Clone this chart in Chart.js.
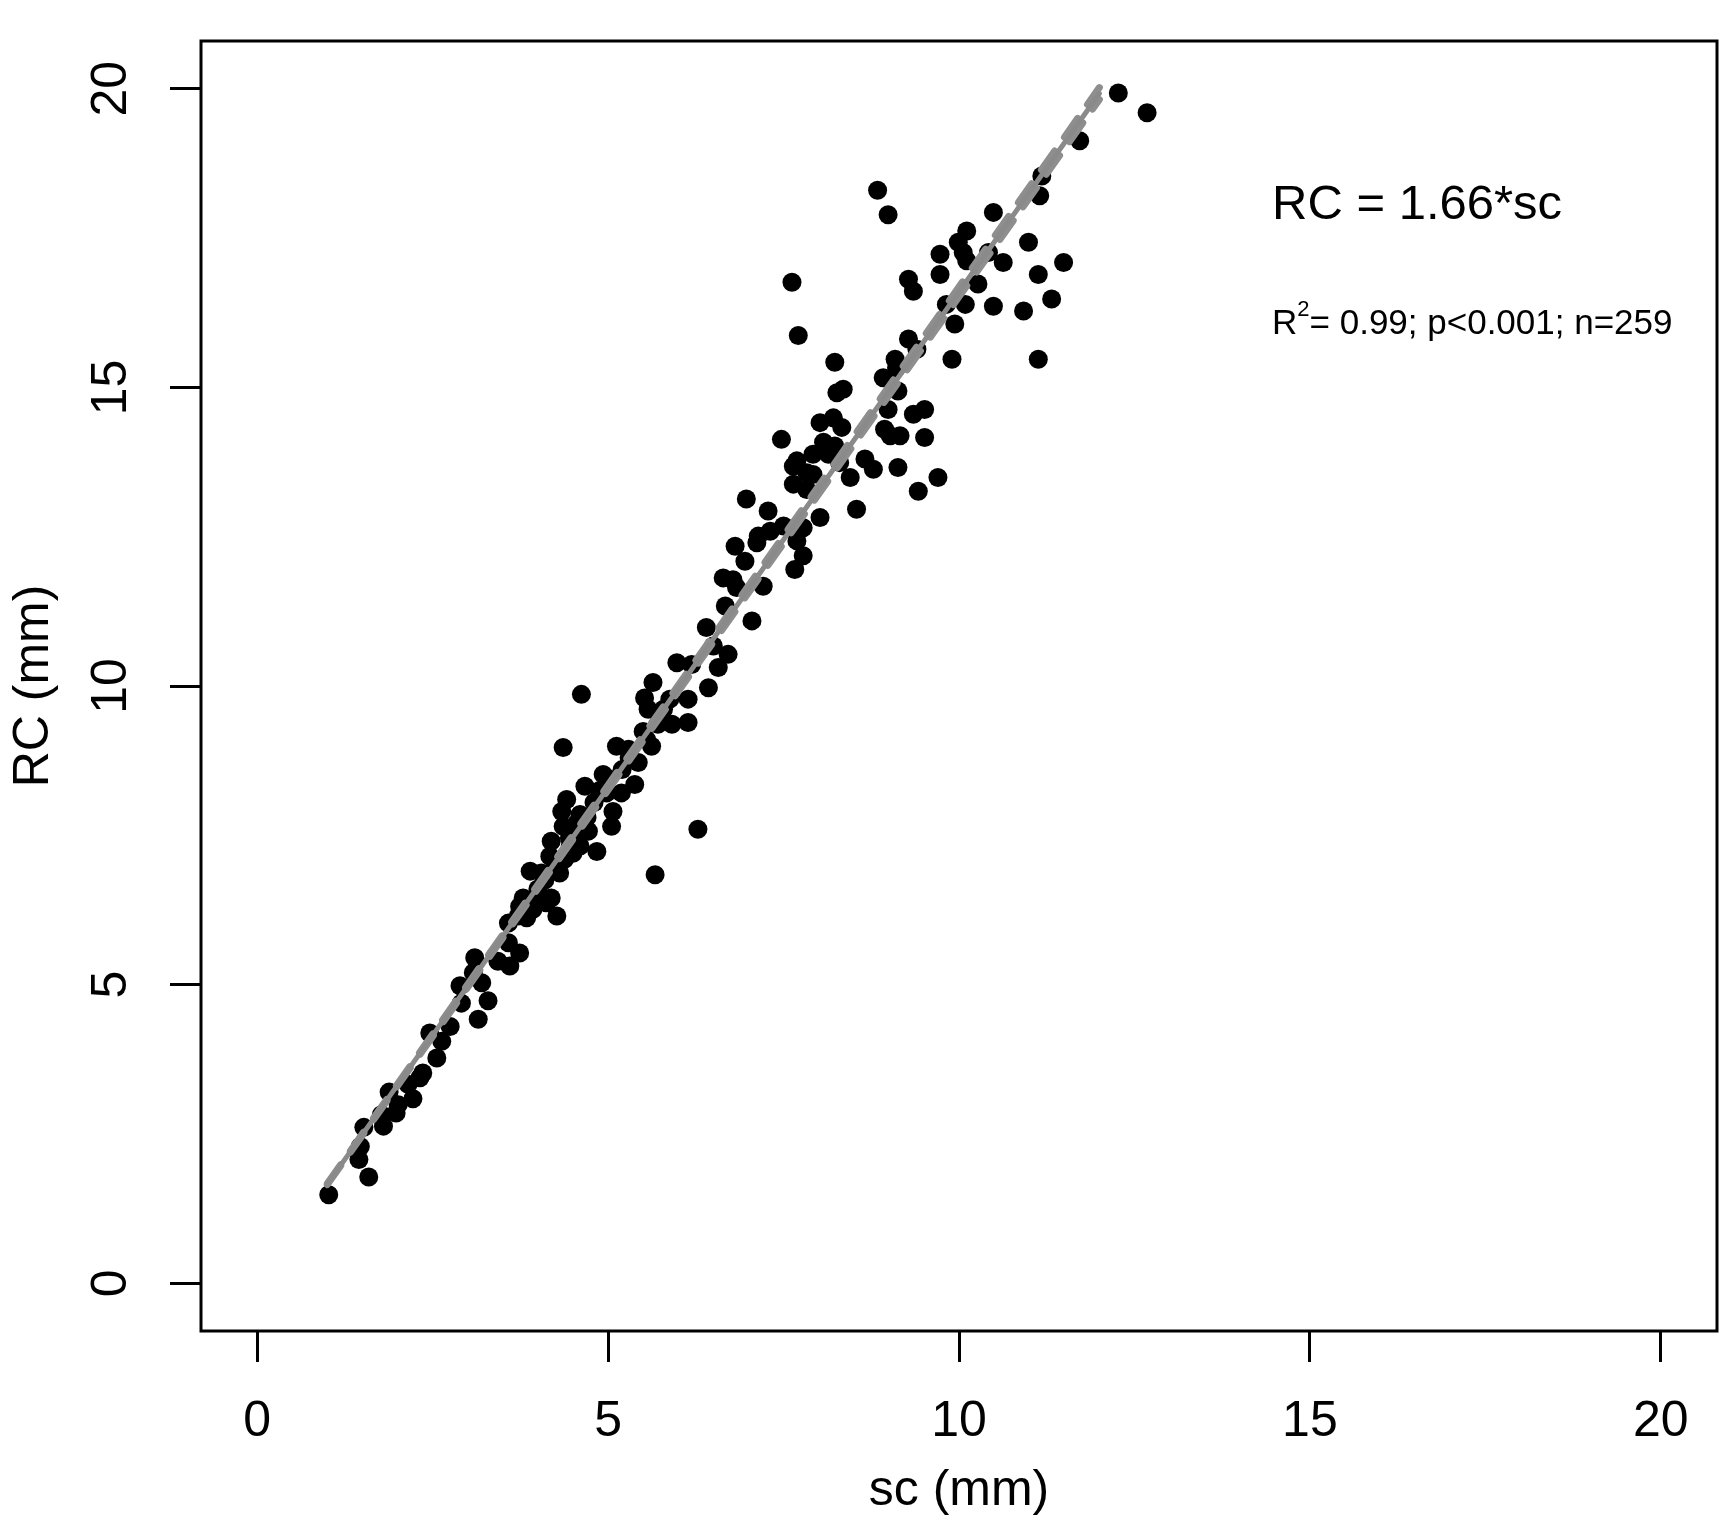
<!DOCTYPE html>
<html>
<head>
<meta charset="utf-8">
<script src="https://cdn.jsdelivr.net/npm/chart.js@4.4.1/dist/chart.umd.min.js"></script>
<style>
  html, body { margin: 0; padding: 0; background: #fff; }
  #wrap { width: 1732px; height: 1534px; }
</style>
</head>
<body>
<div id="wrap"><canvas id="chartRC" width="1732" height="1534"></canvas></div>
<script>
var scValues = [
  1.02, 1.59, 1.45, 1.47, 1.52, 1.80, 1.77, 1.98, 1.88, 2.01, 2.22, 2.15, 2.36, 2.32, 2.56, 2.46, 2.63, 2.75,
  3.15, 2.91, 2.89, 3.29, 3.08, 3.10, 3.20, 3.43, 3.60, 3.74, 3.58, 3.58, 3.84, 4.27, 3.74, 4.12, 3.93,
  3.72, 3.79, 3.98, 4.19, 3.89, 4.05, 4.31, 4.17, 4.19, 4.38, 4.46, 4.36, 4.60, 4.84, 4.72, 5.05, 4.34, 4.41,
  4.60, 4.67, 5.07, 4.98, 4.93, 5.19, 5.38, 5.12, 5.43, 5.29, 5.50, 5.71, 5.62, 5.91, 6.14, 5.52, 5.57, 5.79,
  5.64, 5.88, 6.14, 6.43, 5.98, 6.57, 4.62, 4.36, 6.28, 5.67,
  4.00, 4.10, 4.25, 4.50, 4.55, 4.70, 4.80, 4.88, 4.50, 4.45, 5.20, 5.30, 5.00, 4.02, 5.55,
  6.19, 6.71, 6.40, 6.50, 7.05, 6.67, 6.64, 6.78, 6.83, 7.21, 6.95, 6.81, 7.12, 7.14, 7.31, 7.50, 7.28, 6.97,
  7.69, 7.78, 7.66, 8.02, 7.78, 8.54, 7.64, 7.64, 7.83, 7.92, 8.45, 8.30, 8.78,
  7.71, 8.23, 8.26, 8.35, 8.02, 8.21, 8.33, 7.47, 8.07, 8.23, 7.92, 7.69, 7.83, 8.14, 8.66, 9.13, 9.42, 9.70,
  9.51, 8.94, 9.02, 9.16, 9.35, 9.51, 8.99, 9.13, 8.92, 9.09, 9.28, 9.40, 9.90, 9.94, 9.82, 10.09, 10.49, 9.11,
  12.27, 12.68, 11.72, 11.18, 11.15, 8.84, 8.99, 10.49, 10.11, 9.99, 9.73, 10.06, 10.42, 10.11, 10.63, 10.99,
  11.49, 11.13, 9.73, 9.28, 9.35, 10.27, 10.92, 11.32, 11.13, 7.62
];
var rcValues = [
  1.48, 1.78, 2.07, 2.29, 2.61, 2.63, 2.82, 2.85, 3.20, 2.99, 3.09, 3.33, 3.52, 3.44, 3.77, 4.19, 4.05, 4.30,
  4.42, 4.69, 4.98, 4.73, 5.20, 5.45, 5.03, 5.39, 5.31, 5.53, 5.70, 6.03, 6.12, 6.15, 6.31, 6.37, 6.26,
  6.15, 6.45, 6.37, 6.45, 6.90, 6.87, 6.87, 7.15, 7.40, 7.10, 7.32, 7.65, 7.32, 7.23, 7.57, 7.65, 7.90, 8.10,
  7.85, 8.32, 7.90, 8.21, 8.52, 8.21, 8.35, 8.99, 8.72, 8.94, 9.24, 9.36, 8.99, 9.36, 9.39, 9.80, 9.61, 9.61,
  10.06, 9.78, 9.78, 9.97, 10.39, 10.31, 9.86, 8.97, 7.60, 6.84,
  6.60, 6.75, 7.00, 7.50, 7.70, 7.80, 8.05, 8.25, 7.20, 7.45, 8.60, 8.80, 8.45, 6.50, 9.10,
  10.36, 10.53, 10.98, 10.67, 11.09, 11.34, 11.81, 11.78, 11.65, 11.67, 12.09, 12.34, 12.40, 12.51, 12.59, 12.68, 12.93, 13.13,
  12.43, 12.18, 11.95, 12.82, 12.65, 12.96, 13.68, 13.38, 13.29, 13.54, 13.49, 13.74, 13.63,
  15.87, 15.42, 14.91, 14.97, 14.41, 14.49, 14.33, 14.13, 14.08, 14.02, 13.88, 13.77, 13.57, 13.88, 13.80, 13.66, 13.26, 13.49,
  14.16, 14.30, 14.19, 14.19, 14.55, 14.63, 14.63, 14.94, 15.16, 15.47, 15.81, 15.64, 15.47, 16.06, 16.39, 16.39, 16.36, 15.33,
  19.93, 19.60, 19.13, 18.54, 18.21, 18.30, 17.89, 17.93, 17.62, 17.43, 17.23, 17.26, 17.26, 17.12, 17.09, 17.43,
  17.09, 16.89, 16.89, 16.81, 16.61, 16.73, 16.28, 16.48, 15.47, 16.76
];

// fitted line RC = 1.66*sc and its two dashed bounds (they open out from the origin)
var fitSc = [1.0, 12.0];
var fitRc = [1.66, 19.92];
var upperSc = [1.0, 12.0];
var upperRc = [1.668, 20.02];
var lowerSc = [1.0, 12.0];
var lowerRc = [1.652, 19.82];

var xTicks = [0, 5, 10, 15, 20];
var yTicks = [0, 5, 10, 15, 20];

var eqText = 'RC = 1.66*sc';
var statText = '= 0.99; p<0.001; n=259';

var FONT = '"Liberation Sans", Arial, Helvetica, sans-serif';
Chart.defaults.font.family = FONT;
Chart.defaults.color = '#000';

function toPoints(xs, ys) {
  return xs.map(function (v, i) { return {x: v, y: ys[i]}; });
}

// R style frame and the two text lines
var framePlugin = {
  id: 'frame',
  afterDraw: function (chart) {
    var a = chart.chartArea, ctx = chart.ctx;
    var sx = chart.scales.x, sy = chart.scales.y;
    ctx.save();
    ctx.lineWidth = 3;
    ctx.strokeStyle = '#000';
    ctx.strokeRect(a.left, a.top, a.right - a.left, a.bottom - a.top);

    ctx.fillStyle = '#000';
    ctx.textAlign = 'left';
    ctx.textBaseline = 'alphabetic';
    var tx = sx.getPixelForValue(14.46);
    ctx.font = '49px ' + FONT;
    ctx.fillText(eqText, tx, sy.getPixelForValue(17.82));

    var by = sy.getPixelForValue(15.89);
    ctx.font = '35px ' + FONT;
    ctx.fillText('R', tx, by);
    var w = ctx.measureText('R').width;
    ctx.font = '22px ' + FONT;
    ctx.fillText('2', tx + w, by - 18);
    w += ctx.measureText('2').width;
    ctx.font = '35px ' + FONT;
    ctx.fillText(statText, tx + w, by);
    ctx.restore();
  }
};

var ctx = document.getElementById('chartRC').getContext('2d');
var chart = new Chart(ctx, {
  type: 'scatter',
  data: {
    datasets: [{
      label: 'fit',
      data: toPoints(fitSc, fitRc),
      showLine: true,
      borderColor: '#8a8a8a',
      borderWidth: 5,
      borderCapStyle: 'round',
      pointRadius: 0,
      order: 0
    }, {
      label: 'upper',
      data: toPoints(upperSc, upperRc),
      showLine: true,
      borderColor: '#8e8e8e',
      borderWidth: 7,
      borderDash: [23, 17],
      borderCapStyle: 'round',
      pointRadius: 0,
      order: 0
    }, {
      label: 'lower',
      data: toPoints(lowerSc, lowerRc),
      showLine: true,
      borderColor: '#8e8e8e',
      borderWidth: 7,
      borderDash: [23, 17],
      borderCapStyle: 'round',
      pointRadius: 0,
      order: 0
    }, {
      label: 'RC vs sc',
      data: toPoints(scValues, rcValues),
      backgroundColor: '#000',
      borderColor: '#000',
      borderWidth: 0,
      pointRadius: 9.5,
      pointHoverRadius: 9.5,
      order: 1
    }]
  },
  options: {
    responsive: false,
    animation: false,
    layout: {padding: {left: 0, top: 41, right: 15, bottom: 0}},
    plugins: {
      legend: {display: false},
      tooltip: {enabled: false}
    },
    scales: {
      x: {
        type: 'linear',
        min: -0.8,
        max: 20.8,
        afterBuildTicks: function (s) { s.ticks = xTicks.map(function (v) { return {value: v}; }); },
        afterFit: function (s) { s.height = 203; s.paddingLeft = 0; s.paddingRight = 0; },
        border: {display: false},
        grid: {drawOnChartArea: false, drawTicks: true, tickLength: 31, tickWidth: 3, tickColor: '#000', color: '#000'},
        ticks: {padding: 30, color: '#000', font: {size: 50}, maxRotation: 0, autoSkip: false},
        title: {display: true, text: 'sc (mm)', color: '#000', font: {size: 50}, padding: {top: 0, bottom: 13}}
      },
      y: {
        type: 'linear',
        min: -0.8,
        max: 20.8,
        afterBuildTicks: function (s) { s.ticks = yTicks.map(function (v) { return {value: v}; }); },
        afterFit: function (s) { s.width = 201; s.paddingTop = 0; s.paddingBottom = 0; },
        border: {display: false},
        grid: {drawOnChartArea: false, drawTicks: true, tickLength: 31, tickWidth: 3, tickColor: '#000', color: '#000'},
        ticks: {padding: 30, color: '#000', font: {size: 50}, minRotation: 90, maxRotation: 90, crossAlign: 'center', autoSkip: false},
        title: {display: true, text: 'RC (mm)', color: '#000', font: {size: 50}, padding: {top: 4, bottom: 0}}
      }
    }
  },
  plugins: [framePlugin]
});
</script>
</body>
</html>
